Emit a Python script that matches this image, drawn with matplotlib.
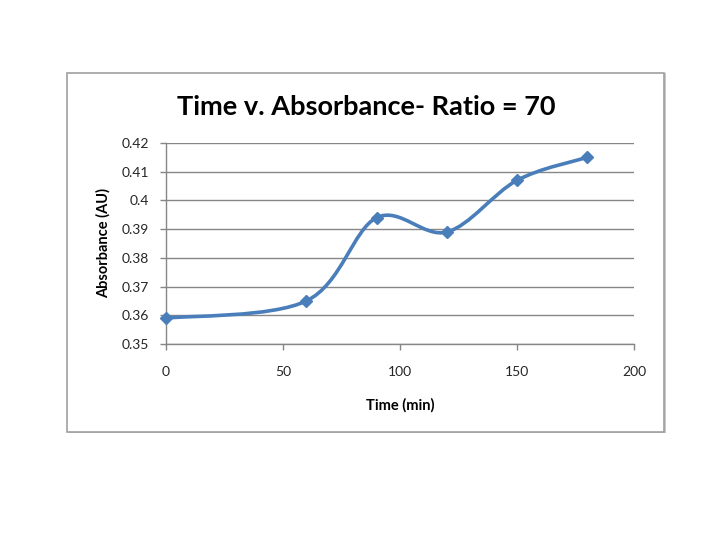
import matplotlib
matplotlib.use("Agg")
import matplotlib.pyplot as plt
from matplotlib.path import Path
from matplotlib.patches import PathPatch, Rectangle
import numpy as np

time_min = [0, 60, 90, 120, 150, 180]
absorbance = [0.359, 0.365, 0.394, 0.389, 0.407, 0.415]
x_ticks = [0, 50, 100, 150, 200]
y_ticks = [0.35, 0.36, 0.37, 0.38, 0.39, 0.40, 0.41, 0.42]
y_tick_labels = ["0.35", "0.36", "0.37", "0.38", "0.39", "0.4", "0.41", "0.42"]
title = "Time v. Absorbance- Ratio = 70"
xlabel = "Time (min)"
ylabel = "Absorbance (AU)"

color = "#4A7EBB"
plt.rcParams['font.family'] = ['Lato', 'DejaVu Sans']

fig = plt.figure(figsize=(7.2, 5.4), dpi=100)
W, H = 720, 540
# chart box
fig.patches.append(Rectangle((69 / W, 1 - 433 / H), 597 / W, 360 / H,
                             transform=fig.transFigure, facecolor="#c8c8c8",
                             edgecolor="none", zorder=-2))
fig.patches.append(Rectangle((67 / W, 1 - 432 / H), 597 / W, 359 / H,
                             transform=fig.transFigure, facecolor="white",
                             edgecolor="#a0a0a0", linewidth=1.2, zorder=-1))

ax = fig.add_axes([166 / W, 1 - 344 / H, (634 - 166) / W, (344 - 143) / H])
ax.set_zorder(2)
ax.patch.set_alpha(0)
ax.set_xlim(0, 200)
ax.set_ylim(0.35, 0.42)
ax.set_xticks(x_ticks)
ax.set_yticks(y_ticks)
ax.set_yticklabels(y_tick_labels)
ax.grid(axis="y", color="#868686", linewidth=1.0)
ax.set_axisbelow(True)
for s in ["top", "right"]:
    ax.spines[s].set_visible(False)
for s in ["left", "bottom"]:
    ax.spines[s].set_color("#868686")
    ax.spines[s].set_linewidth(1.0)
ax.tick_params(axis="both", colors="#868686", length=4, width=1.0,
               labelsize=10, labelcolor="#262626")
ax.tick_params(axis="x", pad=12)
ax.tick_params(axis="y", pad=8)

# smoothed line (Excel-style Bezier through the data points)
xs = np.array(time_min, dtype=float)
ys = np.array(absorbance, dtype=float)
n = len(xs)
verts = [(xs[0], ys[0])]
codes = [Path.MOVETO]
for i in range(n - 1):
    p0 = np.array([xs[max(i - 1, 0)], ys[max(i - 1, 0)]])
    p1 = np.array([xs[i], ys[i]])
    p2 = np.array([xs[i + 1], ys[i + 1]])
    p3 = np.array([xs[min(i + 2, n - 1)], ys[min(i + 2, n - 1)]])
    c1 = p1 + (p2 - p0) / 6.0
    c2 = p2 - (p3 - p1) / 6.0
    verts += [tuple(c1), tuple(c2), tuple(p2)]
    codes += [Path.CURVE4] * 3
ax.add_patch(PathPatch(Path(verts, codes), facecolor="none", edgecolor=color,
                       linewidth=2.6, capstyle="round", joinstyle="round", zorder=3))
ax.plot(time_min, absorbance, linestyle="none", marker="D", markersize=6.5,
        color=color, zorder=4, clip_on=False)

fig.text(366 / W, 1 - 107 / H, title, ha="center", va="center",
         fontsize=19.5, fontweight="bold", color="black")
ax.set_xlabel(xlabel, fontsize=10.5, fontweight="bold", labelpad=14)
ax.set_ylabel(ylabel, fontsize=10.5, fontweight="bold", labelpad=8)

fig.savefig("out.png", dpi=100, facecolor="white")
